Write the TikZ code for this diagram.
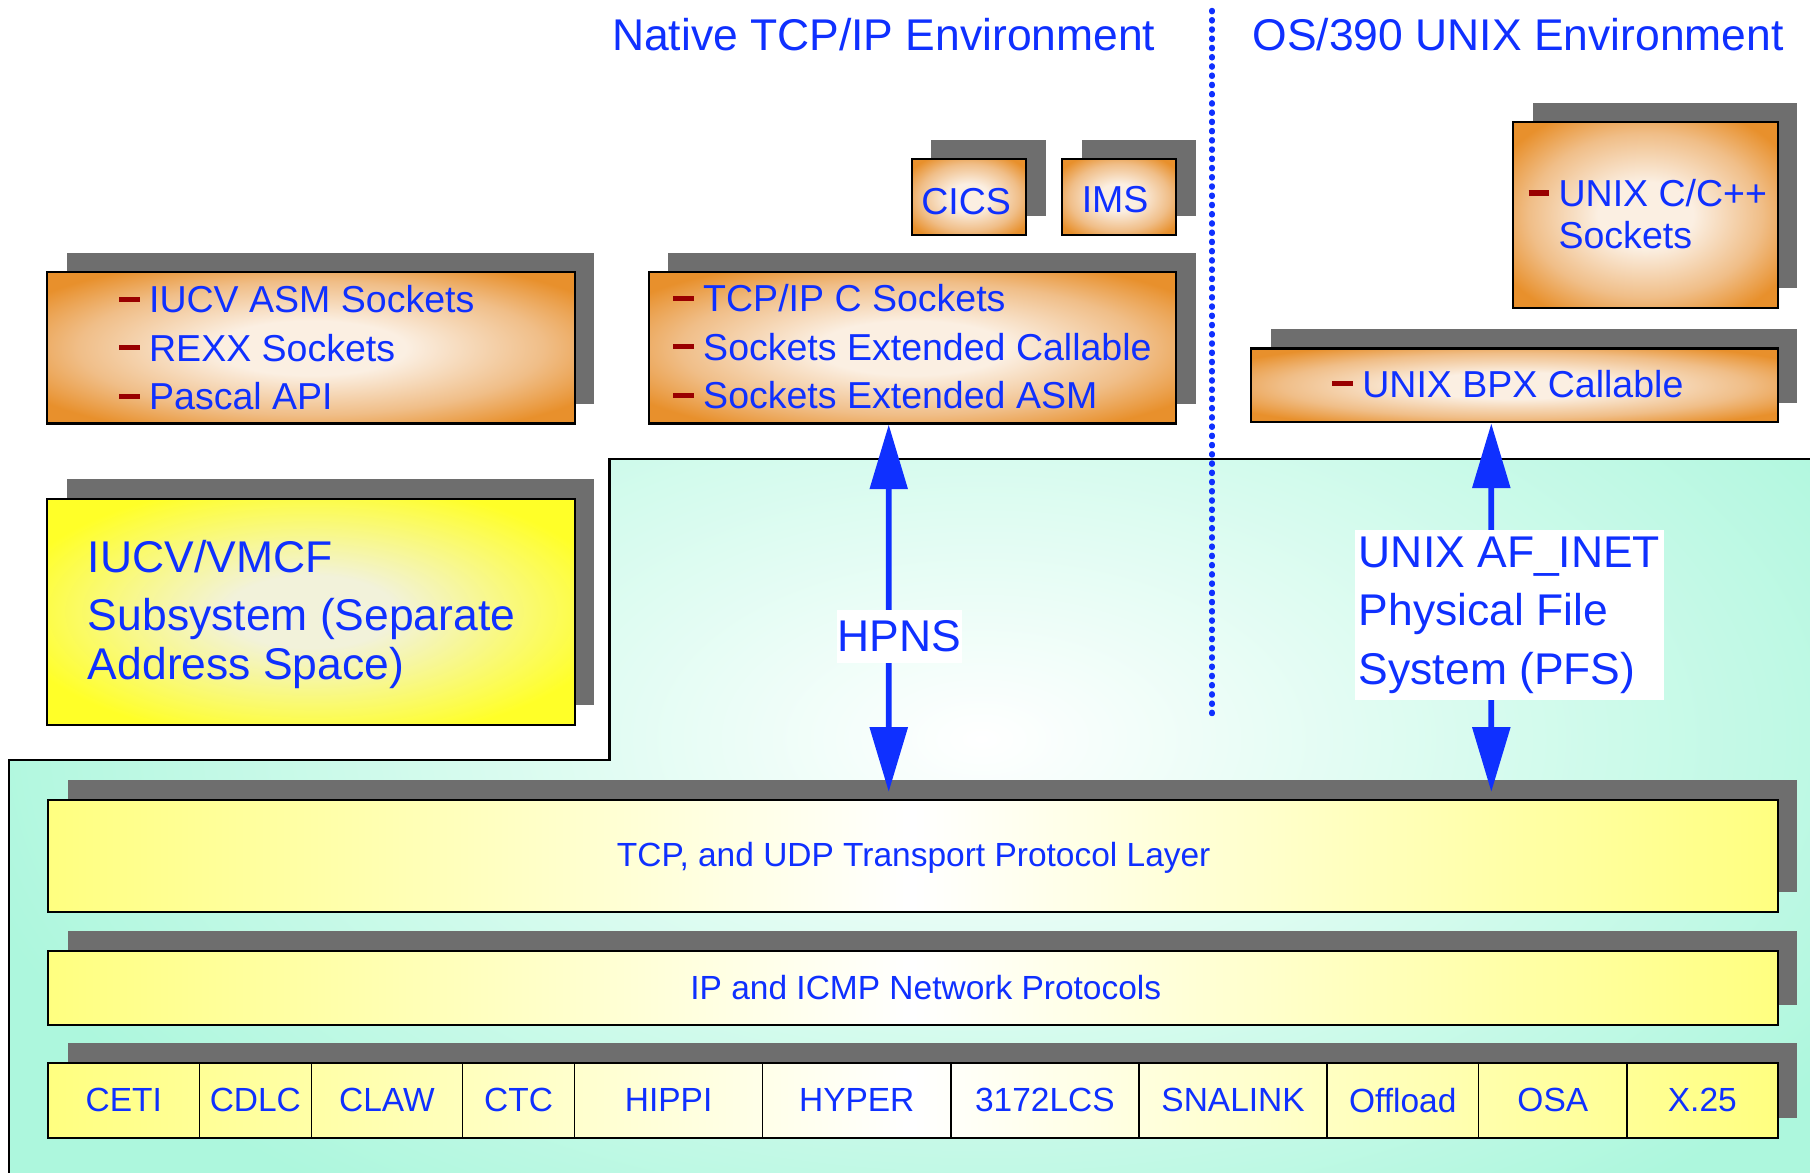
\documentclass[tikz,border=0pt]{standalone}
\usepackage{fontspec}
\setmainfont{Liberation Sans}
\usetikzlibrary{arrows.meta,shadows}
\definecolor{tblue}{HTML}{0F30FF}
\definecolor{orng}{HTML}{E8902C}
\definecolor{orngin}{HTML}{FBEFE2}
\definecolor{orngmid}{HTML}{F0BE88}
\definecolor{shgray}{HTML}{6E6E6E}
\definecolor{dred}{HTML}{990000}
\definecolor{lyel}{HTML}{FFFF80}
\definecolor{byel}{HTML}{FFFF28}
\definecolor{yelin}{HTML}{F2F2DA}
\definecolor{mint}{HTML}{ADF7DD}
\pgfdeclareradialshading{orngshade}{\pgfpointorigin}{color(0bp)=(orngin); color(9bp)=(orngin); color(22bp)=(orngmid); color(31bp)=(orng); color(50bp)=(orng)}
\pgfdeclareradialshading{yelshade}{\pgfpointorigin}{color(0bp)=(yelin); color(8bp)=(yelin); color(29bp)=(byel); color(50bp)=(byel)}
\newcommand{\bulmark}{\textcolor{dred}{\rule[0.29em]{0.55em}{0.14em}}\hspace{0.25em}}
\tikzset{
  shbox/.style={rectangle, draw=black, line width=1.8bp, inner sep=0pt, anchor=north west,
    general shadow={fill=shgray, shadow xshift=17bp, shadow yshift=17bp}},
  obox/.style={shbox, shade, shading=orngshade},
  ybox/.style={shbox, shade, shading=yelshade},
  layerbox/.style={shbox, left color=lyel, right color=lyel, middle color=white},
  cell/.style={rectangle, draw=black, line width=1.4bp, inner sep=0pt, anchor=north west,
    minimum height=65bp, text=tblue, font=\fontsize{29bp}{35bp}\selectfont},
  itm/.style={anchor=base west, inner sep=0pt, text=tblue, font=\fontsize{32.5bp}{42bp}\selectfont},
  bigtxt/.style={anchor=base west, inner sep=0pt, text=tblue, font=\fontsize{38.5bp}{46bp}\selectfont},
  laytxt/.style={anchor=base, inner sep=0pt, text=tblue, font=\fontsize{29bp}{35bp}\selectfont},
  lbl/.style={fill=white, text=tblue, font=\fontsize{38.5bp}{50.5bp}\selectfont},
  biarrow/.style={draw=tblue, line width=5bp, >={Triangle[length=56bp,width=32bp]}, <->},
}
\begin{document}
\begin{tikzpicture}[x=1bp,y=-1bp]
\fill[white] (0,0) rectangle (1568,1016);
\useasboundingbox (0,0) rectangle (1568,1016);

% cyan stack region
\begin{scope}
  \clip (528,398) -- (1568,398) -- (1568,1016) -- (8,1016) -- (8,658) -- (528,658) -- cycle;
  \shade[inner color=white, outer color=mint] (-50,140) rectangle (1750,1140);
\end{scope}
\draw[line width=1.8bp] (1568,398) -- (528,398) -- (528,658) -- (8,658) -- (8,1016);

% titles and divider
\node[bigtxt] (tnat) at (530,44) {Native TCP/IP Environment};
\node[bigtxt] (tunx) at (1085,44) {OS/390 UNIX Environment};
\draw[tblue, line width=4.5bp, line cap=round, dash pattern=on 1.2bp off 6.8bp] (1050,9) -- (1050,622);

% CICS / IMS
\node[obox, minimum width=99bp, minimum height=66bp] (cics) at (789,137) {};
\node[itm, anchor=base] (cicst) at (837,186) {CICS};
\node[obox, minimum width=99bp, minimum height=66bp] (ims) at (919,137) {};
\node[itm, anchor=base] (imst) at (966,184) {IMS};

% IUCV sockets
\node[obox, minimum width=457bp, minimum height=131bp] (iucvs) at (40,235) {};
\node[itm] (iu1) at (103,271) {\bulmark IUCV ASM Sockets};
\node[itm] (iu2) at (103,313) {\bulmark REXX Sockets};
\node[itm] (iu3) at (103,355) {\bulmark Pascal API};

% TCP/IP C sockets
\node[obox, minimum width=457bp, minimum height=131bp] (tcpc) at (561,235) {};
\node[itm] (tc1) at (583,270) {\bulmark TCP/IP C Sockets};
\node[itm] (tc2) at (583,312) {\bulmark Sockets Extended Callable};
\node[itm] (tc3) at (583,354) {\bulmark Sockets Extended ASM};

% UNIX C/C++
\node[obox, minimum width=229bp, minimum height=161bp] (unixc) at (1310,105) {};
\node[itm] (uc1) at (1324,179) {\bulmark UNIX C/C++};
\node[itm] (uc2) at (1350,215) {Sockets};

% UNIX BPX
\node[obox, minimum width=456bp, minimum height=64bp] (bpx) at (1083,301) {};
\node[itm] (bp1) at (1154,344) {\bulmark UNIX BPX Callable};

% IUCV/VMCF
\node[ybox, minimum width=457bp, minimum height=196bp] (vmcf) at (40,431) {};
\node[bigtxt] (vm1) at (76,496) {IUCV/VMCF};
\node[bigtxt] (vm2) at (76,546) {Subsystem (Separate};
\node[bigtxt] (vm3) at (76,589) {Address Space)};

% layers
\node[layerbox, minimum width=1498bp, minimum height=97bp] (tcp) at (41,692) {};
\node[laytxt] (tcpt) at (791.5,751) {TCP, and UDP Transport Protocol Layer};
\node[layerbox, minimum width=1498bp, minimum height=64bp] (ip) at (41,823) {};
\node[laytxt] (ipt) at (802,866) {IP and ICMP Network Protocols};
\node[layerbox, minimum width=1498bp, minimum height=65bp] (links) at (41,920) {};
\foreach \x/\w/\t [count=\i] in {41/131/CETI, 172/97/CDLC, 269/131/CLAW, 400/97/CTC,
    497/163/HIPPI, 660/163/HYPER, 823/163/3172LCS, 986/163/SNALINK,
    1149/131/Offload, 1280/129/OSA, 1409/130/X.25}
  \node[cell, minimum width=\w*1bp] (c\i) at (\x,920) {\t};

% arrows
\draw[biarrow] ([xshift=-20.5bp]tcpc.south) -- ([xshift=-21bp,yshift=6bp]tcp.north);
\draw[biarrow] ([xshift=-20bp]bpx.south) -- ([xshift=501bp,yshift=6bp]tcp.north);

% arrow labels
\node[lbl, minimum width=108bp, minimum height=46bp, inner sep=0pt] (hpns) at (779,551) {HPNS};
\node[lbl, align=left, anchor=north west, inner xsep=3bp, inner ysep=6bp] (pfs) at (1174,459)
  {UNIX AF\_INET\\Physical File\\System (PFS)};
\end{tikzpicture}
\end{document}
